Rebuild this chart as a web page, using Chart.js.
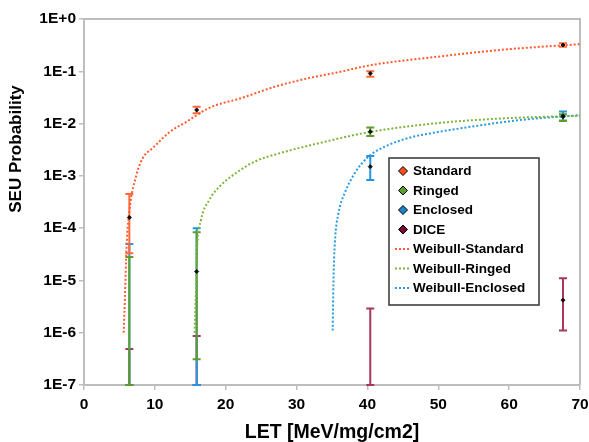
<!DOCTYPE html>
<html>
<head>
<meta charset="utf-8">
<script src="https://cdn.jsdelivr.net/npm/chart.js@4.4.1/dist/chart.umd.min.js"></script>
<style>
html,body{margin:0;padding:0;background:#fff}
#wrap{width:589px;height:442px;position:relative}
</style>
</head>
<body>
<div id="wrap"><canvas id="seuChart"></canvas></div>
<script>
// LET of the test ions
const letValues=[6.4,15.9,40.4,67.6]
// measured SEU probability (null = nothing seen, only upper bar drawn)
const standardProb=[1.6e-4,1.82e-2,9.1e-2,3.18e-1]
const standardLow=[3.3e-5,1.58e-2,7.9e-2,2.95e-1]
const standardHigh=[4.5e-4,2.1e-2,1.0e-1,3.43e-1]
const ringedProb=[null,1.48e-5,7.0e-3,1.35e-2]
const ringedLow=[null,3.1e-7,5.8e-3,1.12e-2]
const ringedHigh=[2.8e-5,8.3e-5,8.4e-3,1.5e-2]
const enclosedProb=[null,null,1.5e-3,1.4e-2]
const enclosedLow=[null,null,8.3e-4,1.15e-2]
const enclosedHigh=[5.0e-5,1.0e-4,2.4e-3,1.7e-2]
const diceProb=[null,null,null,4.2e-6]
const diceLow=[null,null,null,1.1e-6]
const diceHigh=[4.9e-7,8.7e-7,2.9e-6,1.1e-5]
// weibull fits
const wStdLet=[5.6,5.78,6.0,6.45,7.4,8.3,9.7,12.1,14.4,17.7,22.3,27.0,31.7,35.9,40.6,49.9,59.3,70]
const wStdProb=[1e-6,4.7e-6,4.2e-5,2.4e-4,1.04e-3,2.2e-3,3.4e-3,6.9e-3,1.07e-2,2.0e-2,3.1e-2,5.1e-2,7.4e-2,9.6e-2,0.132,0.19,0.26,0.33]
const wRingLet=[15.6,15.75,15.95,16.5,17.7,19.1,21.4,24.2,28.4,33.1,40.1,49.9,59.3,70]
const wRingProb=[1e-6,4e-6,3.8e-5,1.4e-4,3.5e-4,6.2e-4,1.12e-3,1.9e-3,2.9e-3,4.2e-3,6.8e-3,1.02e-2,1.26e-2,1.41e-2]
const wEncLet=[35.1,35.2,35.4,35.9,36.8,38.2,40.1,42.4,46.2,48.3,54.6,61.6,70]
const wEncProb=[1.1e-6,8.8e-6,5.1e-5,1.9e-4,4.7e-4,1.12e-3,2.3e-3,3.6e-3,5.5e-3,6.3e-3,8.7e-3,1.17e-2,1.45e-2]
const yTickValues=[1e-7,1e-6,1e-5,1e-4,1e-3,1e-2,1e-1,1]
const yTickLabels=["1E-7","1E-6","1E-5","1E-4","1E-3","1E-2","1E-1","1E+0"]
const legendNames=["Standard","Ringed","Enclosed","DICE","Weibull-Standard","Weibull-Ringed","Weibull-Enclosed"]

const FONT="'Liberation Sans', Arial, sans-serif"
const grey="#BDBDBD"

function pts(xs,ys){return xs.map((x,i)=>({x:x,y:ys[i]})).filter(p=>p.y!=null)}

function seriesSet(label,probs,low,high,color,errColor){
return {label:label,data:pts(letValues,probs),showLine:false,pointStyle:"rectRot",pointRadius:2,
backgroundColor:"#111",borderColor:"#111",borderWidth:1,order:0,
legendColor:color,errLow:low,errHigh:high,errColor:errColor}
}
function fitSet(label,xs,ys,color){
return {label:label,data:pts(xs,ys),showLine:true,pointRadius:0,borderColor:color,borderWidth:2,
borderDash:[2,2],cubicInterpolationMode:"monotone",order:1,fitLine:true}
}

const datasets=[
seriesSet("Standard",standardProb,standardLow,standardHigh,"#FF4A1A","#FF6A3D"),
seriesSet("Ringed",ringedProb,ringedLow,ringedHigh,"#56A02A","#5C9E2E"),
seriesSet("Enclosed",enclosedProb,enclosedLow,enclosedHigh,"#1E80C8","#2494DF"),
seriesSet("DICE",diceProb,diceLow,diceHigh,"#7A0A2A","#A8365E"),
fitSet("Weibull-Standard",wStdLet,wStdProb,"#FF5B2E"),
fitSet("Weibull-Ringed",wRingLet,wRingProb,"#7DB53C"),
fitSet("Weibull-Enclosed",wEncLet,wEncProb,"#2A9BE0")
]

// vertical error bars, drawn under the points (last series first)
const errorBars={
id:"errorBars",
beforeDatasetsDraw(chart){
const {ctx,chartArea,scales}=chart
ctx.save()
ctx.beginPath()
ctx.rect(chartArea.left,chartArea.top-2,chartArea.width,chartArea.height+3)
ctx.clip()
chart.data.datasets.slice().reverse().forEach(ds=>{
if(!ds.errHigh)return
ctx.strokeStyle=ds.errColor
ctx.lineWidth=2
ds.errHigh.forEach((hi,i)=>{
const px=scales.x.getPixelForValue(letValues[i])
const top=scales.y.getPixelForValue(hi)
const lo=ds.errLow[i]
const bot=lo==null?chartArea.bottom:scales.y.getPixelForValue(lo)
ctx.beginPath()
ctx.moveTo(px,top);ctx.lineTo(px,bot)
ctx.moveTo(px-4,top);ctx.lineTo(px+4,top)
ctx.moveTo(px-4,bot);ctx.lineTo(px+4,bot)
ctx.stroke()
})
})
ctx.restore()
}
}

// grey frame on top and right of plot area
const plotFrame={
id:"plotFrame",
beforeDatasetsDraw(chart){
const {ctx,chartArea}=chart
ctx.save()
ctx.strokeStyle=grey
ctx.lineWidth=2
ctx.beginPath()
ctx.moveTo(chartArea.left,chartArea.top)
ctx.lineTo(chartArea.right,chartArea.top)
ctx.lineTo(chartArea.right,chartArea.bottom)
ctx.stroke()
ctx.restore()
}
}

// boxed legend inside plot, plus y title placed like the original
const boxLegend={
id:"boxLegend",
afterDraw(chart){
const {ctx,chartArea}=chart
const bx=chartArea.left+305,by=chartArea.top+139,bw=150,bh=147
ctx.save()
ctx.fillStyle="#fff"
ctx.fillRect(bx,by,bw,bh)
ctx.strokeStyle="#333"
ctx.lineWidth=1.5
ctx.strokeRect(bx,by,bw,bh)
ctx.font="bold 13.5px "+FONT
ctx.textBaseline="middle"
chart.data.datasets.forEach((ds,i)=>{
const cy=by+13+i*19.5
const cx=bx+14
if(ds.fitLine){
ctx.strokeStyle=ds.borderColor
ctx.lineWidth=2
ctx.setLineDash([2,2])
ctx.beginPath();ctx.moveTo(cx-8,cy);ctx.lineTo(cx+8,cy);ctx.stroke()
ctx.setLineDash([])
}else{
ctx.fillStyle=ds.legendColor
ctx.strokeStyle="#000"
ctx.lineWidth=1
ctx.beginPath()
ctx.moveTo(cx,cy-4.5);ctx.lineTo(cx+4.5,cy);ctx.lineTo(cx,cy+4.5);ctx.lineTo(cx-4.5,cy);ctx.closePath()
ctx.fill();ctx.stroke()
}
ctx.fillStyle="#000"
ctx.fillText(legendNames[i],bx+24,cy+0.5)
})
ctx.translate(16,149)
ctx.rotate(-Math.PI/2)
ctx.textAlign="center"
ctx.font="bold 17px "+FONT
ctx.fillText("SEU Probability",0,0)
ctx.restore()
}
}

const ctx=document.getElementById("seuChart")
const chart=new Chart(ctx,{
type:"scatter",
data:{datasets:datasets},
options:{
responsive:true,
maintainAspectRatio:false,
animation:false,
layout:{padding:{top:19,right:9,left:0,bottom:0}},
plugins:{legend:{display:false},tooltip:{enabled:false}},
scales:{
x:{
type:"linear",min:0,max:70,
afterFit:s=>{s.height=57;s.paddingLeft=0;s.paddingRight=0},
grid:{drawOnChartArea:false,tickLength:5,color:grey,lineWidth:1.5},
border:{color:grey,width:2},
ticks:{stepSize:10,padding:5,color:"#000",font:{family:FONT,size:15.5,weight:"bold"}},
title:{display:true,text:"LET [MeV/mg/cm2]",color:"#000",padding:0,font:{family:FONT,size:19.5,weight:"bold",lineHeight:1}}
},
y:{
type:"logarithmic",min:1e-7,max:1,
afterFit:s=>{s.width=84;s.paddingTop=0;s.paddingBottom=0},
afterBuildTicks:s=>{s.ticks=yTickValues.map(v=>({value:v}))},
grid:{drawOnChartArea:false,tickLength:5,color:grey,lineWidth:1.5},
border:{color:grey,width:2},
ticks:{padding:3,color:"#000",font:{family:FONT,size:15.5,weight:"bold"},callback:(v,i)=>yTickLabels[i]}
}
}
},
plugins:[plotFrame,errorBars,boxLegend]
})
</script>
</body>
</html>
